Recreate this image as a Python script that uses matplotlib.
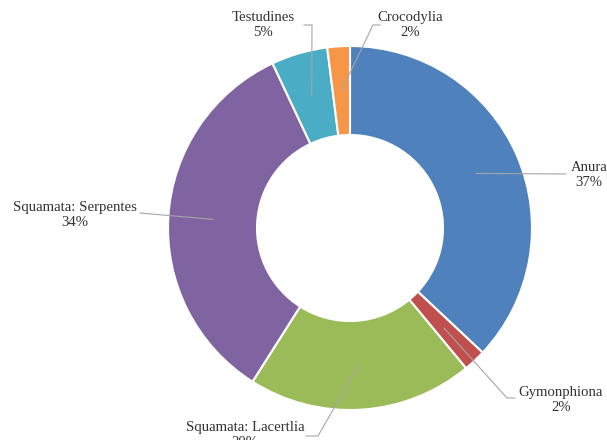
import numpy as np
import matplotlib.pyplot as plt

# chart data
labels = ['Anura', 'Gymonphiona', 'Squamata: Lacertlia', 'Squamata: Serpentes', 'Testudines', 'Crocodylia']
values = [37, 2, 20, 34, 5, 2]
colors = ['#4F81BD', '#C0504D', '#9BBB59', '#8064A2', '#4BACC6', '#F79646']

# layout in image pixels (y down): label centre and leader elbow points
label_pos = [(589, 175), (561, 400), (245, 435), (75, 215), (263, 25), (410, 25)]
leader_pts = [[(566, 174)],
              [(507, 398), (515, 398)],
              [(318, 436), (306, 436)],
              [(140, 213)],
              [(312, 25), (304, 25)],
              [(373, 25), (380, 25)]]

W, H = 607, 440
cx, cy = 350, 228
R, ring = 182, 89

def flip(p):
    return p[0], H - p[1]

fig = plt.figure(figsize=(W / 100, H / 100), dpi=100)
ax = fig.add_axes([0, 0, 1, 1])

wedges, _ = ax.pie(values, colors=colors, startangle=90, counterclock=False,
                   center=flip((cx, cy)), radius=R,
                   wedgeprops=dict(width=ring, edgecolor='white', linewidth=1.5))

ax.set_xlim(0, W)
ax.set_ylim(0, H)
ax.set_aspect('equal')
ax.axis('off')

c = np.array(flip((cx, cy)), dtype=float)
rm = R - ring / 2
for w, lab, v, pos, pts in zip(wedges, labels, values, label_pos, leader_pts):
    th = np.deg2rad((w.theta1 + w.theta2) / 2)
    start = c + rm * np.array([np.cos(th), np.sin(th)])
    path = [tuple(start)] + [flip(p) for p in pts]
    xs, ys = zip(*path)
    ax.plot(xs, ys, color='#A6A6A6', lw=0.8, zorder=3)
    tx, ty = flip(pos)
    ax.text(tx, ty, f'{lab}\n{v}%', ha='center', va='center',
            fontfamily='Liberation Serif', fontsize=10.6, color='#333333',
            linespacing=1.15, zorder=4)

fig.savefig('out.png', dpi=100)
